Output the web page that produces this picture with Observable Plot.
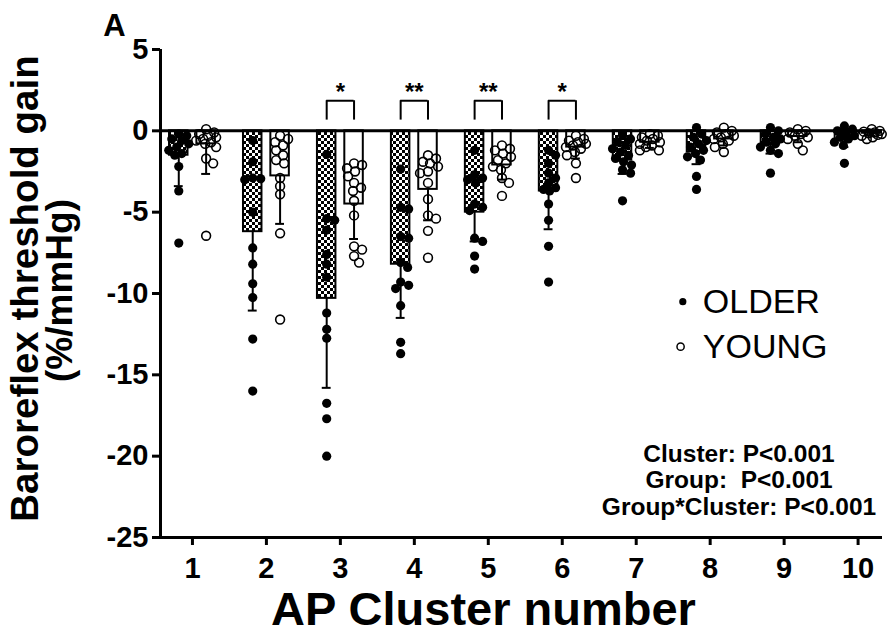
<!DOCTYPE html>
<html><head><meta charset="utf-8">
<script src="https://cdn.jsdelivr.net/npm/d3@7"></script>
<script src="https://cdn.jsdelivr.net/npm/@observablehq/plot@0.6"></script>
<style>body{margin:0;background:#fff} svg text{white-space:pre}</style>
</head><body><div id="chart"></div>
<script>
// ---------- data ----------
const clusters = [1, 2, 3, 4, 5, 6, 7, 8, 9, 10];
const groups = ["OLDER", "YOUNG"];
const yTicks = [5, 0, -5, -10, -15, -20, -25];

const olderMean = [-1.5, -6.2, -10.3, -8.2, -5.0, -3.7, -1.8, -1.3, -0.8, -0.5];
const olderSD   = [1.9, 4.85, 5.5, 3.3, 1.8, 2.35, 0.85, 0.75, 0.6, 0.5];
const youngMean = [-0.8, -2.77, -4.5, -3.6, -2.1, -1.0, -0.7, -0.5, -0.35, -0.15];
const youngSD   = [1.85, 2.95, 2.15, 1.9, 0.9, 0.7, 0.35, 0.4, 0.35, 0.15];

const olderPoints = [
  [-0.2, -0.3, -0.5, -0.6, -0.8, -1.0, -1.2, -1.4, -1.5, -2.2, -3.7, -6.9],
  [-0.6, -1.9, -2.9, -2.95, -3.0, -5.0, -7.2, -8.2, -9.4, -10.25, -12.8, -16.0],
  [-1.45, -5.4, -5.5, -6.1, -7.6, -8.2, -9.0, -11.2, -12.2, -12.75, -16.75, -17.7, -20.0],
  [-2.35, -4.7, -4.8, -6.5, -6.6, -8.1, -8.4, -9.3, -9.5, -9.7, -10.75, -13.0, -13.7],
  [-1.2, -2.7, -2.9, -3.0, -3.2, -4.5, -4.7, -4.9, -6.6, -6.8, -7.7, -8.5],
  [-1.2, -1.5, -2.0, -2.6, -2.9, -3.2, -3.5, -3.6, -3.7, -4.5, -5.5, -7.1, -9.3],
  [-0.3, -0.5, -0.7, -0.9, -1.1, -1.3, -1.5, -1.7, -1.9, -2.1, -2.4, -2.6, -4.3],
  [0.2, -0.2, -0.4, -0.6, -0.8, -1.0, -1.2, -1.4, -1.6, -1.8, -2.8, -3.6],
  [0.2, 0.0, -0.2, -0.4, -0.5, -0.7, -0.8, -1.0, -1.2, -1.4, -2.6],
  [0.3, 0.1, 0.0, -0.1, -0.3, -0.4, -0.5, -0.7, -0.9, -2.0]
];
const youngPoints = [
  [0.1, -0.1, -0.2, -0.3, -0.4, -0.5, -0.6, -0.7, -0.8, -1.0, -1.7, -2.0, -6.45],
  [-0.3, -0.5, -0.7, -0.9, -1.2, -1.5, -1.8, -2.0, -2.9, -3.4, -3.9, -6.3, -11.6],
  [-2.0, -2.1, -2.3, -2.5, -2.8, -3.2, -3.5, -3.7, -4.3, -5.2, -7.1, -7.3, -7.7, -8.1],
  [-1.5, -1.7, -1.9, -2.0, -2.2, -2.5, -2.6, -3.2, -4.2, -5.2, -5.4, -6.15, -7.8],
  [-0.9, -1.1, -1.2, -1.4, -1.6, -1.8, -2.0, -2.2, -2.4, -2.9, -3.2, -4.0],
  [-0.3, -0.5, -0.6, -0.7, -0.8, -0.9, -1.0, -1.1, -1.3, -1.5, -2.0, -2.9],
  [-0.2, -0.3, -0.4, -0.5, -0.6, -0.7, -0.8, -0.9, -1.0, -1.2, -1.2],
  [0.2, 0.0, -0.1, -0.2, -0.3, -0.4, -0.5, -0.6, -0.8, -1.0, -1.3],
  [0.1, 0.0, -0.1, -0.2, -0.3, -0.4, -0.5, -0.8, -1.2],
  [0.1, 0.0, -0.05, -0.1, -0.15, -0.2, -0.25, -0.3, -0.4, -0.5]
];

const sigClusters = [3, 4, 5, 6];
const sigLabels = ["*", "**", "**", "*"];
const legendLabels = ["OLDER", "YOUNG"];
const statsText = "Cluster: P<0.001\nGroup:  P<0.001\nGroup*Cluster: P<0.001";

// ---------- layout ----------
const W = 887, H = 636, ML = 160, MR = 5, MT = 49, MB = 99;
const xDomain = [0.568, 10.33];
const yDomain = [-25, 5];
const KX = (W - ML - MR) / (xDomain[1] - xDomain[0]);
const KY = (H - MT - MB) / (yDomain[1] - yDomain[0]);
const groupOffset = {OLDER: -0.185, YOUNG: 0.185};
const barHalf = 0.125, capHalf = 0.06;
const bracketTop = 1.85, bracketBottom = 0.66;
const FONT = "Liberation Sans, Arial, Helvetica, sans-serif";

const bars = clusters.flatMap((c, i) => [
  {cluster: c, group: "OLDER", mean: olderMean[i], sd: olderSD[i]},
  {cluster: c, group: "YOUNG", mean: youngMean[i], sd: youngSD[i]}
]);
const center = d => d.cluster + groupOffset[d.group];

// simple beeswarm spread (pixels) so overlapping points sit side by side
function swarm(values, cluster, group) {
  const sorted = values.slice().sort((a, b) => b - a);
  const placed = [];
  const cands = [0];
  for (let k = 1; k <= 10; k++) cands.push(k, -k);
  for (const v of sorted) {
    const py = v * KY;
    let best = 0, bestD = -1;
    for (const o of cands) {
      let m = Infinity;
      for (const q of placed) m = Math.min(m, Math.hypot(o - q.o, py - q.py));
      if (m >= 8) { best = o; break; }
      if (m > bestD) { bestD = m; best = o; }
    }
    placed.push({o: best, py, v});
  }
  return placed.map(q => ({cluster, group, value: q.v, px: cluster + groupOffset[group] + q.o / KX}));
}
const olderDots = clusters.flatMap((c, i) => swarm(olderPoints[i], c, "OLDER"));
const youngDots = clusters.flatMap((c, i) => swarm(youngPoints[i], c, "YOUNG"));

const sig = sigClusters.map((c, i) => ({cluster: c, label: sigLabels[i]}));
const legend = legendLabels.map((l, i) => ({label: l, i}));

const chart = Plot.plot({
  width: W, height: H,
  marginLeft: ML, marginRight: MR, marginTop: MT, marginBottom: MB,
  x: {domain: xDomain, axis: null},
  y: {domain: yDomain, axis: null},
  style: {fontFamily: FONT, color: "black", background: "white", overflow: "visible"},
  marks: [
    Plot.rectY(bars.filter(d => d.group === "OLDER"), {x1: d => center(d) - barHalf, x2: d => center(d) + barHalf, y1: 0, y2: "mean", fill: "url(#checker)", stroke: "black", strokeWidth: 2}),
    Plot.rectY(bars.filter(d => d.group === "YOUNG"), {x1: d => center(d) - barHalf, x2: d => center(d) + barHalf, y1: 0, y2: "mean", fill: "white", stroke: "black", strokeWidth: 2}),
    Plot.ruleX(bars, {x: center, y1: "mean", y2: d => d.mean - d.sd, stroke: "black", strokeWidth: 2}),
    Plot.ruleY(bars, {y: d => d.mean - d.sd, x1: d => center(d) - capHalf, x2: d => center(d) + capHalf, stroke: "black", strokeWidth: 2}),
    Plot.ruleY([0], {stroke: "black", strokeWidth: 3}),
    Plot.dot(olderDots, {x: "px", y: "value", r: 4.6, fill: "black", stroke: "none"}),
    Plot.dot(youngDots, {x: "px", y: "value", r: 4.4, fill: "none", stroke: "black", strokeWidth: 1.6}),
    // significance brackets
    Plot.ruleY(sig, {y: bracketTop, x1: d => d.cluster + groupOffset.OLDER, x2: d => d.cluster + groupOffset.YOUNG, stroke: "black", strokeWidth: 2}),
    Plot.ruleX(sig, {x: d => d.cluster + groupOffset.OLDER, y1: bracketBottom, y2: bracketTop, stroke: "black", strokeWidth: 2}),
    Plot.ruleX(sig, {x: d => d.cluster + groupOffset.YOUNG, y1: bracketBottom, y2: bracketTop, stroke: "black", strokeWidth: 2}),
    Plot.text(sig, {x: "cluster", y: bracketTop, text: "label", fontSize: 24, fontWeight: "bold", lineAnchor: "bottom", dy: -1, fill: "black"}),
    // axes
    Plot.ruleX([xDomain[0]], {stroke: "black", strokeWidth: 3}),
    Plot.ruleY([yDomain[0]], {stroke: "black", strokeWidth: 3}),
    Plot.axisY({ticks: yTicks, tickSize: 8, tickPadding: 4, fontSize: 29, fontWeight: "bold", strokeWidth: 3, tickFormat: d => String(d), label: null, fontFamily: FONT}),
    Plot.axisX({ticks: clusters, tickSize: 8, tickPadding: 12, fontSize: 29, fontWeight: "bold", strokeWidth: 3, tickFormat: d => String(d), label: null, fontFamily: FONT}),
    Plot.text(["AP Cluster number"], {frameAnchor: "bottom", textAnchor: "middle", dx: -38, dy: 72, fontSize: 47, fontWeight: "bold", lineAnchor: "middle", fill: "black"}),
    Plot.text(["Baroreflex threshold gain"], {frameAnchor: "left", textAnchor: "middle", rotate: -90, dx: -135, dy: -5, fontSize: 38.5, fontWeight: "bold", lineAnchor: "middle", fill: "black"}),
    Plot.text(["(%/mmHg)"], {frameAnchor: "left", textAnchor: "middle", rotate: -90, dx: -100, dy: -3, fontSize: 37, fontWeight: "bold", lineAnchor: "middle", fill: "black"}),
    Plot.text(["A"], {frameAnchor: "top-left", textAnchor: "middle", dx: -46, dy: -23, fontSize: 31, fontWeight: "bold", lineAnchor: "middle", fill: "black"}),
    // legend
    Plot.dot(legend.filter(d => d.i === 0), {x: 7.63, y: -10.5, r: 3.6, fill: "black", stroke: "none"}),
    Plot.dot(legend.filter(d => d.i === 1), {x: 7.6, y: -13.27, r: 3.6, fill: "none", stroke: "black", strokeWidth: 1.5}),
    Plot.text(legend, {x: 7.9, y: d => d.i === 0 ? -10.5 : -13.27, text: "label", textAnchor: "start", lineAnchor: "middle", fontSize: 34, fill: "black"}),
    // statistics
    Plot.text([statsText], {x: 8.39, y: -21.45, textAnchor: "middle", lineAnchor: "middle", fontSize: 24.5, fontWeight: "bold", lineHeight: 1.08, fill: "black"})
  ]
});

const svg = chart.tagName.toLowerCase() === "svg" ? chart : chart.querySelector("svg");
const defs = d3.select(svg).insert("defs", ":first-child");
const pat = defs.append("pattern").attr("id", "checker").attr("patternUnits", "userSpaceOnUse").attr("width", 6).attr("height", 6);
pat.append("rect").attr("width", 6).attr("height", 6).attr("fill", "white");
pat.append("rect").attr("width", 3).attr("height", 3).attr("fill", "black");
pat.append("rect").attr("x", 3).attr("y", 3).attr("width", 3).attr("height", 3).attr("fill", "black");
document.getElementById("chart").appendChild(chart);
</script>
</body></html>
